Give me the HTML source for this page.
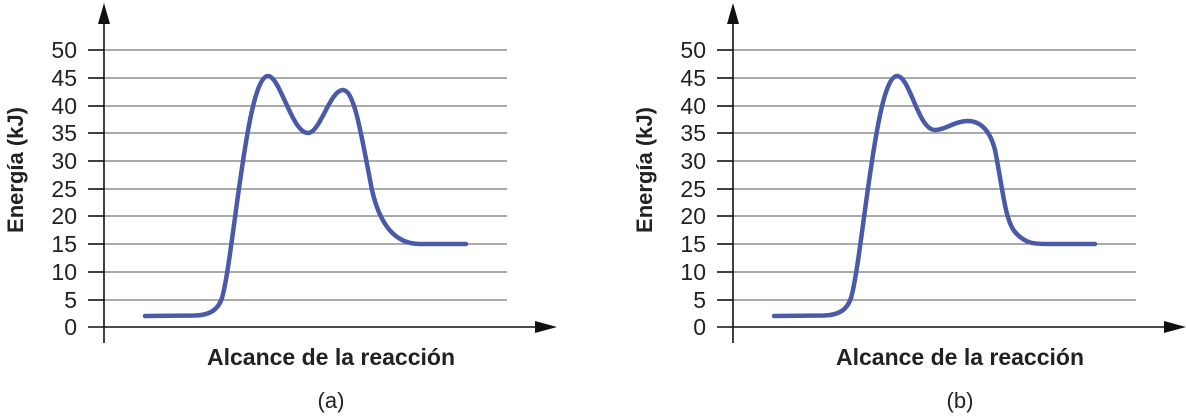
<!DOCTYPE html>
<html><head><meta charset="utf-8"><style>body{margin:0;background:#fff}</style></head><body>
<svg width="1186" height="413" xmlns="http://www.w3.org/2000/svg" font-family="Liberation Sans, sans-serif">
<defs>
<g id="ax">
<g stroke="#777" stroke-width="1.3">
<line x1="104" y1="50" x2="507" y2="50"/><line x1="104" y1="78" x2="507" y2="78"/><line x1="104" y1="106" x2="507" y2="106"/><line x1="104" y1="133" x2="507" y2="133"/><line x1="104" y1="161" x2="507" y2="161"/><line x1="104" y1="189" x2="507" y2="189"/><line x1="104" y1="216" x2="507" y2="216"/><line x1="104" y1="244" x2="507" y2="244"/><line x1="104" y1="272" x2="507" y2="272"/><line x1="104" y1="300" x2="507" y2="300"/>
</g>
<g stroke="#111" stroke-width="1.6">
<line x1="88" y1="50" x2="104" y2="50"/><line x1="88" y1="78" x2="104" y2="78"/><line x1="88" y1="106" x2="104" y2="106"/><line x1="88" y1="133" x2="104" y2="133"/><line x1="88" y1="161" x2="104" y2="161"/><line x1="88" y1="189" x2="104" y2="189"/><line x1="88" y1="216" x2="104" y2="216"/><line x1="88" y1="244" x2="104" y2="244"/><line x1="88" y1="272" x2="104" y2="272"/><line x1="88" y1="300" x2="104" y2="300"/>
<line x1="88" y1="327" x2="540" y2="327"/><line x1="104" y1="20" x2="104" y2="343"/>
</g>
<polygon points="104,3 98,24 110,24" fill="#111"/>
<polygon points="557,327 535,321 535,333" fill="#111"/>
<g font-size="23" fill="#222" text-anchor="end">
<text x="77" y="58">50</text><text x="77" y="86">45</text><text x="77" y="114">40</text><text x="77" y="141">35</text><text x="77" y="169">30</text><text x="77" y="197">25</text><text x="77" y="224">20</text><text x="77" y="252">15</text><text x="77" y="280">10</text><text x="77" y="308">5</text><text x="77" y="335">0</text>
</g>
<text transform="translate(23,170) rotate(-90)" font-size="22" font-weight="bold" fill="#222" text-anchor="middle">Energía (kJ)</text>
<text x="331" y="365" font-size="23" font-weight="bold" fill="#222" text-anchor="middle">Alcance de la reacción</text>
</g>
</defs>
<use href="#ax"/>
<text x="331" y="408" font-size="22" fill="#222" text-anchor="middle">(a)</text>
<path d="M145,316 L195,315.5 C210,315 218,310 222,298 C230,270 238,180 250,120 C256,90 262,76 268,76 C280,76 292,133 308,133 C320,133 330,90 343,90 C355,90 362,140 372,190 C380,225 395,244 420,244 L466,244" fill="none" stroke="#4a5aa8" stroke-width="4.5" stroke-linecap="round"/>
<use href="#ax" transform="translate(629,0)"/>
<text x="960" y="408" font-size="22" fill="#222" text-anchor="middle">(b)</text>
<path d="M774,316 L824,315.5 C839,315 847,310 851,298 C859,270 867,180 879,120 C885,90 891,76 897,76 C910,76 918,130 935,130 C945,130 955,121 968,121 C980,121 990,130 995,150 C1003,190 1005,220 1015,232 C1025,244 1035,244 1049,244 L1095,244" fill="none" stroke="#4a5aa8" stroke-width="4.5" stroke-linecap="round"/>
</svg>
</body></html>
